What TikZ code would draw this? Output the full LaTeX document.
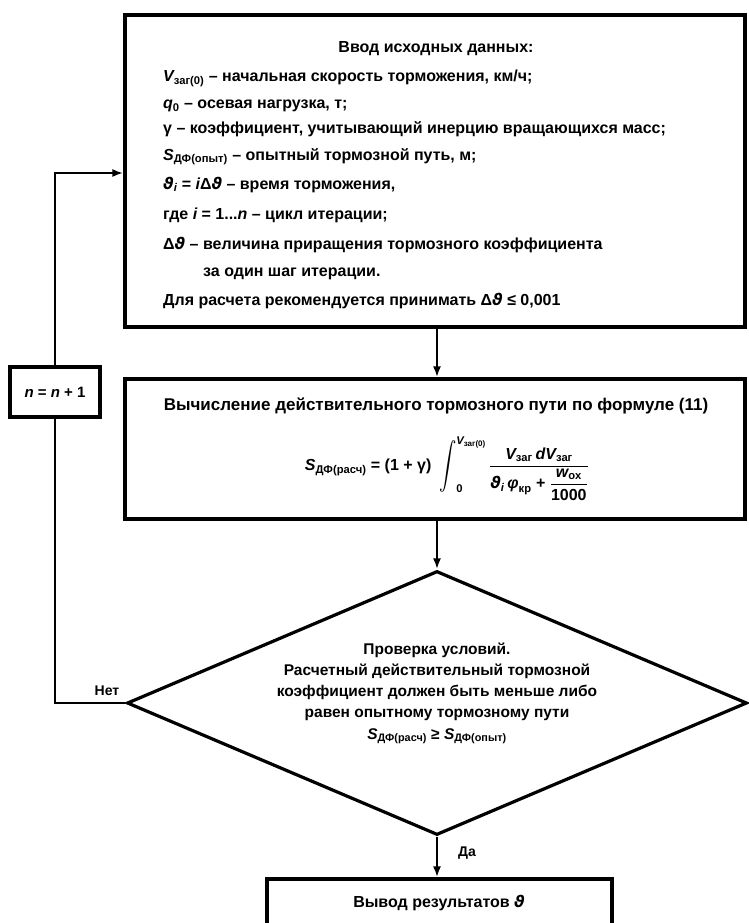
\documentclass[tikz,border=0pt]{standalone}
\usepackage{amsmath}
\usepackage{fontspec}
\setmainfont{Liberation Sans}
\newfontfamily\dvs{DejaVu Sans}
\usetikzlibrary{shapes.geometric,arrows.meta}
\newcommand\vt{{\dvs\itshape ϑ}}
\newcommand\ti[1]{\text{\itshape #1}}
\newcommand\tx[1]{\text{#1}}
\newcommand\bigintg{\mathop{\vcenter{\hbox{\scalebox{1}[1.35]{$\displaystyle\int$}}}}\nolimits}
\begin{document}
\begin{tikzpicture}[x=1pt,y=-1pt,
  boxst/.style={draw, line width=3.2pt, inner sep=0pt},
  arr/.style={line width=2.6pt, -{Latex[length=11pt,width=8pt]}},
  conn/.style={line width=2.6pt},
  txt/.style={font=\fontsize{16}{19}\selectfont\bfseries, inner sep=0pt, anchor=base west},
  ctxt/.style={font=\fontsize{16}{19}\selectfont\bfseries, inner sep=0pt, anchor=base},
  dtxt/.style={font=\fontsize{15.5}{18}\selectfont\bfseries, inner sep=0pt, anchor=base},
  lbl/.style={font=\fontsize{14}{17}\selectfont\bfseries, inner sep=0pt},
]
\useasboundingbox (0,0) rectangle (749,923);
\fill[white] (0,0) rectangle (749,923);

% boxes
\node[boxst, minimum width=620pt, minimum height=312pt] (b1) at (435,171) {};
\node[boxst, minimum width=620pt, minimum height=140pt] (b2) at (435,449) {};
\node[diamond, draw, line width=3.2pt, minimum width=620pt, minimum height=264pt, inner sep=0pt] (dia) at (437,703) {};
\node[boxst, minimum width=345pt, minimum height=110pt] (bb) at (439.5,934) {};
\node[boxst, minimum width=90pt, minimum height=50pt, font=\fontsize{15}{18}\selectfont\bfseries] (nb) at (55,392) {{\itshape n} = {\itshape n} + 1};

% top box text
\node[ctxt] (t0) at (436,53) {Ввод исходных данных:};
\node[txt] (t1) at (163,82) {{\itshape V}\textsubscript{заг(0)} – начальная скорость торможения, км/ч;};
\node[txt] (t2) at (163,109) {{\itshape q}\textsubscript{0} – осевая нагрузка, т;};
\node[txt] (t3) at (163,134) {γ – коэффициент, учитывающий инерцию вращающихся масс;};
\node[txt] (t4) at (163,160) {{\itshape S}\textsubscript{ДФ(опыт)} – опытный тормозной путь, м;};
\node[txt] (t5) at (163,189) {\vt\textsubscript{\itshape i} = {\itshape i}Δ\vt{} – время торможения,};
\node[txt] (t6) at (163,219) {где {\itshape i} = 1...{\itshape n} – цикл итерации;};
\node[txt] (t7) at (163,249) {Δ\vt{} – величина приращения тормозного коэффициента};
\node[txt] (t8) at (203,276) {за один шаг итерации.};
\node[txt] (t9) at (163,305) {Для расчета рекомендуется принимать Δ\vt{} ≤ 0,001};

% second box text
\node[ctxt, font=\fontsize{17}{20}\selectfont\bfseries] (s0) at (436,410) {Вычисление действительного тормозного пути по формуле (11)};
\node[font=\fontsize{16}{19}\selectfont\bfseries, inner sep=0pt] (s1) at (447,469)
 {$\displaystyle \ti{S}_{\tx{ДФ(расч)}} \tx{ = } \tx{(1 + γ)}\;\bigintg_{\tx{0}}^{\ti{V}_{\tx{заг(0)}}}
   \frac{\ti{V}_{\tx{заг}}\,\ti{dV}_{\tx{заг}}}{\text{\vt}_{\ti{i}}\,\ti{φ}_{\tx{кр}} \tx{ + } \dfrac{\ti{w}_{\tx{ох}}}{\tx{1000}}}$};

% diamond text
\node[dtxt] (d0) at (437,654) {Проверка условий.};
\node[dtxt] (d1) at (437,675) {Расчетный действительный тормозной};
\node[dtxt] (d2) at (437,696) {коэффициент должен быть меньше либо};
\node[dtxt] (d3) at (437,717) {равен опытному тормозному пути};
\node[dtxt] (d4) at (437,739) {{\itshape S}\textsubscript{ДФ(расч)} ≥ {\itshape S}\textsubscript{ДФ(опыт)}};

% bottom box text
\node[ctxt] (bt) at (439,907) {Вывод результатов \vt};

% connectors
\coordinate (fbin) at (123.4,173);
\draw[arr] (b1.south -| dia.north) -- (b2.north -| dia.north);
\draw[arr] (b2.south -| dia.north) -- (dia.north);
\draw[arr] (dia.south) -- (dia.south |- bb.north);
\draw[conn] (dia.west) -- (dia.west -| nb.south) -- (nb.south);
\draw[arr] (nb.north) |- (fbin);

% labels
\node[lbl] (no) at (107,691) {Нет};
\node[lbl] (yes) at (467,853) {Да};
\end{tikzpicture}
\end{document}
